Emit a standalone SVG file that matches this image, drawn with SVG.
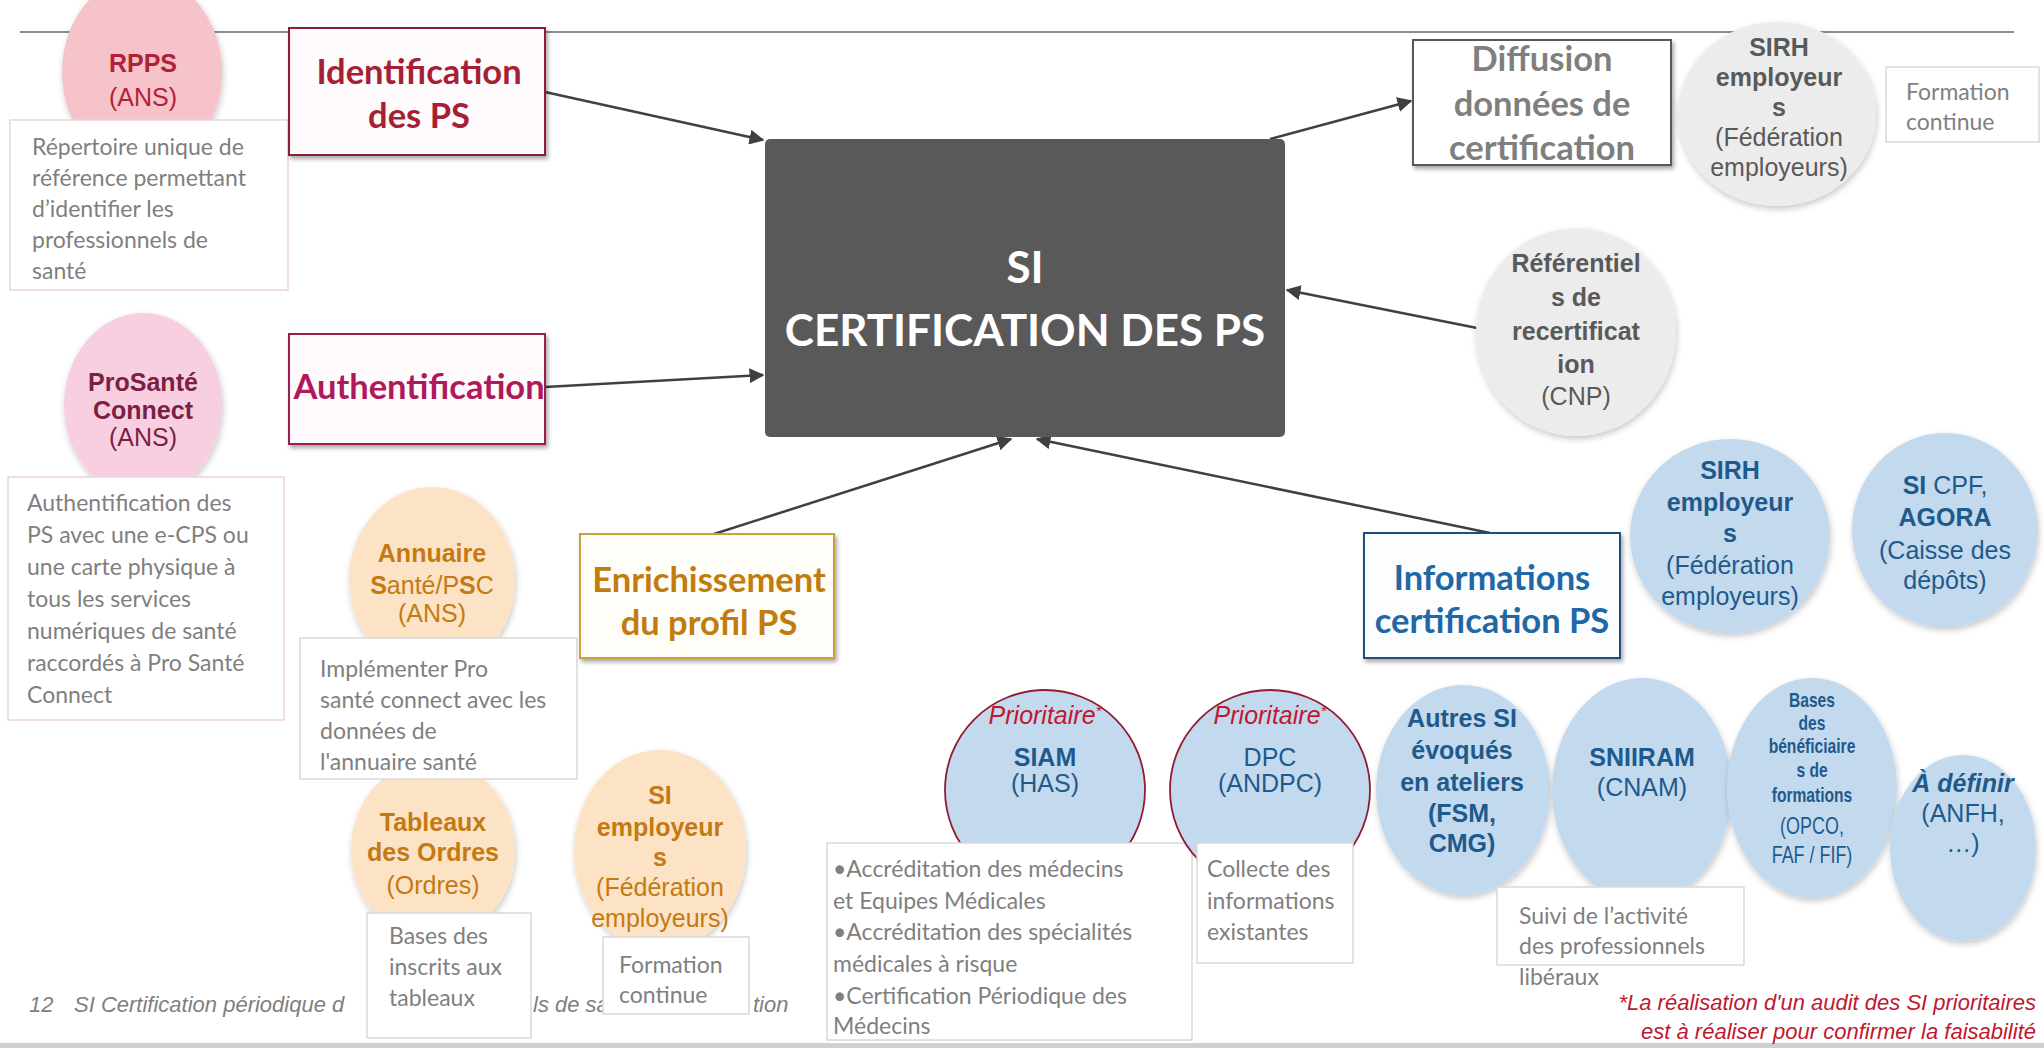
<svg xmlns="http://www.w3.org/2000/svg" width="2044" height="1048" viewBox="0 0 2044 1048">
<defs>
<filter id="sh" x="-10%" y="-10%" width="125%" height="130%">
<feDropShadow dx="2" dy="3" stdDeviation="2" flood-color="#000" flood-opacity="0.35"/>
</filter>
<filter id="csh" x="-10%" y="-10%" width="125%" height="125%">
<feDropShadow dx="1" dy="3" stdDeviation="3" flood-color="#000" flood-opacity="0.22"/>
</filter>
<marker id="arr" viewBox="0 0 10 10" refX="9" refY="5" markerWidth="6" markerHeight="6" orient="auto" markerUnits="strokeWidth">
<path d="M0,0 L10,5 L0,10 z" fill="#404040"/>
</marker>
</defs>
<style>
.desc{font-family:Lato,"Liberation Sans",sans-serif;font-size:23px;fill:#7f7f7f}
.dbox{fill:#fff;stroke:#d9d9d9;stroke-width:1.5}
.circ{font-family:"Liberation Sans",Arial,sans-serif;font-size:25px;text-anchor:middle}
.lbl{font-family:Lato,"Liberation Sans",sans-serif;font-weight:bold;font-size:34.5px;text-anchor:middle}
.b{font-weight:bold}
.conn{stroke:#404040;stroke-width:2.5;fill:none;marker-end:url(#arr)}
.foot{font-family:"Liberation Sans",Arial,sans-serif;font-style:italic;font-size:22px;fill:#7f7f7f}
.pink{fill:#f6c3cb}
.rose{fill:#f8cfe0}
.peach{fill:#fde3c6}
.grey{fill:#ececec}
.blue{fill:#c3d9ee}
.ring{stroke:#8f1d33;stroke-width:1.8}
.ot{fill:#c47a12}
.gt{fill:#595959}
.bt{fill:#1f5a8c}
.prio{fill:#c0182e;font-style:italic}
.sm{font-size:20px}
.md{font-size:23px}
</style>

<rect x="0" y="0" width="2044" height="1048" fill="#fff"/>
<line x1="20" y1="32" x2="2014" y2="32" stroke="#8c8c8c" stroke-width="2"/>
<rect x="0" y="1043" width="2044" height="5" fill="#d0d0d0"/>

<g id="footer">
<text class="foot" x="29" y="1012">12</text>
<text class="foot" x="74" y="1012">SI Certification périodique d</text>
<text class="foot" x="533" y="1012">ls de sa</text>
<text class="foot" x="753" y="1012">tion</text>
</g>

<g id="connectors">
<line class="conn" x1="545" y1="92" x2="763" y2="140"/>
<line class="conn" x1="545" y1="387" x2="763" y2="375"/>
<line class="conn" x1="714" y1="534" x2="1011" y2="439"/>
<line class="conn" x1="1490" y1="533" x2="1037" y2="439"/>
<line class="conn" x1="1477" y1="328" x2="1287" y2="290"/>
<line class="conn" x1="1270" y1="139" x2="1411" y2="101"/>
</g>

<g id="rpps">
<ellipse class="pink" cx="142" cy="72" rx="80" ry="96" filter="url(#csh)"/>
<text class="circ b" x="143" y="72" fill="#b22236">RPPS</text>
<text class="circ" x="143" y="106" fill="#b22236">(ANS)</text>
</g>
<g id="rpps-desc">
<rect class="dbox" x="10" y="120" width="278" height="170" style="stroke:#ecd3d8"/>
<text class="desc" x="32" y="155">Répertoire unique de</text>
<text class="desc" x="32" y="186">référence permettant</text>
<text class="desc" x="32" y="217">d’identifier les</text>
<text class="desc" x="32" y="248">professionnels de</text>
<text class="desc" x="32" y="279">santé</text>
</g>

<g id="identification">
<rect x="289" y="28" width="256" height="127" fill="#fffafb" stroke="#8f1d33" stroke-width="2" filter="url(#sh)"/>
<text class="lbl" x="419" y="84" fill="#a51f35">Identification</text>
<text class="lbl" x="419" y="128" fill="#a51f35">des PS</text>
</g>

<g id="prosante">
<ellipse class="rose" cx="143" cy="405" rx="79" ry="92" filter="url(#csh)"/>
<text class="circ b" x="143" y="391" fill="#7b1f45">ProSanté</text>
<text class="circ b" x="143" y="419" fill="#7b1f45">Connect</text>
<text class="circ" x="143" y="446" fill="#7b1f45">(ANS)</text>
</g>
<g id="prosante-desc">
<rect class="dbox" x="8" y="477" width="276" height="243" style="stroke:#ecd3d8"/>
<text class="desc" x="27" y="511">Authentification des</text>
<text class="desc" x="27" y="543">PS avec une e-CPS ou</text>
<text class="desc" x="27" y="575">une carte physique à</text>
<text class="desc" x="27" y="607">tous les services</text>
<text class="desc" x="27" y="639">numériques de santé</text>
<text class="desc" x="27" y="671">raccordés à Pro Santé</text>
<text class="desc" x="27" y="703">Connect</text>
</g>

<g id="authentification">
<rect x="289" y="334" width="256" height="110" fill="#fffafc" stroke="#9c1f55" stroke-width="2" filter="url(#sh)"/>
<text class="lbl" x="419" y="399" fill="#b0185c">Authentification</text>
</g>

<g id="central">
<rect x="765" y="139" width="520" height="298" rx="5" fill="#595959"/>
<text x="1025" y="283" font-family="Lato, 'Liberation Sans', sans-serif" font-weight="bold" font-size="44" fill="#fff" text-anchor="middle">SI</text>
<text x="1025" y="346" font-family="Lato, 'Liberation Sans', sans-serif" font-weight="bold" font-size="44" fill="#fff" text-anchor="middle">CERTIFICATION DES PS</text>
</g>

<g id="annuaire">
<ellipse class="peach" cx="432" cy="580" rx="83" ry="93" filter="url(#csh)"/>
<text class="circ b ot" x="432" y="562">Annuaire</text>
<text class="circ ot" x="432" y="594"><tspan class="b">S</tspan>anté/P<tspan class="b">S</tspan>C</text>
<text class="circ ot" x="432" y="622">(ANS)</text>
</g>

<g id="tableaux">
<ellipse class="peach" cx="433" cy="850" rx="82" ry="90" filter="url(#csh)"/>
<text class="circ b ot" x="433" y="831">Tableaux</text>
<text class="circ b ot" x="433" y="861">des Ordres</text>
<text class="circ ot" x="433" y="894">(Ordres)</text>
</g>

<g id="annuaire-desc">
<rect class="dbox" x="300" y="638" width="277" height="141"/>
<text class="desc" x="320" y="677">Implémenter Pro</text>
<text class="desc" x="320" y="708">santé connect avec les</text>
<text class="desc" x="320" y="739">données de</text>
<text class="desc" x="320" y="770">l'annuaire santé</text>
</g>

<g id="tableaux-desc">
<rect class="dbox" x="367" y="913" width="164" height="125"/>
<text class="desc" x="389" y="944">Bases des</text>
<text class="desc" x="389" y="975">inscrits aux</text>
<text class="desc" x="389" y="1006">tableaux</text>
</g>

<g id="si-employeurs">
<ellipse class="peach" cx="660" cy="850" rx="86" ry="100" filter="url(#csh)"/>
<text class="circ b ot" x="660" y="804">SI</text>
<text class="circ b ot" x="660" y="836">employeur</text>
<text class="circ b ot" x="660" y="866">s</text>
<text class="circ ot" x="660" y="896">(Fédération</text>
<text class="circ ot" x="660" y="927">employeurs)</text>
</g>
<g id="si-employeurs-desc">
<rect class="dbox" x="603" y="937" width="146" height="77"/>
<text class="desc" x="619" y="973">Formation</text>
<text class="desc" x="619" y="1003">continue</text>
</g>

<g id="enrichissement">
<rect x="580" y="534" width="254" height="124" fill="#fffdf7" stroke="#c9a13b" stroke-width="2" filter="url(#sh)"/>
<text class="lbl" x="709" y="592" fill="#c27c0e">Enrichissement</text>
<text class="lbl" x="709" y="635" fill="#c27c0e">du profil PS</text>
</g>

<g id="diffusion">
<rect x="1413" y="40" width="258" height="125" fill="#fff" stroke="#595959" stroke-width="2" filter="url(#sh)"/>
<text class="lbl" x="1542" y="71" fill="#7f7f7f">Diffusion</text>
<text class="lbl" x="1542" y="116" fill="#7f7f7f">données de</text>
<text class="lbl" x="1542" y="160" fill="#7f7f7f">certification</text>
</g>

<g id="sirh-grey">
<ellipse class="grey" cx="1777" cy="114" rx="99" ry="92" filter="url(#csh)"/>
<text class="circ b gt" x="1779" y="56">SIRH</text>
<text class="circ b gt" x="1779" y="86">employeur</text>
<text class="circ b gt" x="1779" y="116">s</text>
<text class="circ gt" x="1779" y="146">(Fédération</text>
<text class="circ gt" x="1779" y="176">employeurs)</text>
</g>
<g id="sirh-grey-desc">
<rect class="dbox" x="1886" y="67" width="153" height="75"/>
<text class="desc" x="1906" y="100">Formation</text>
<text class="desc" x="1906" y="130">continue</text>
</g>

<g id="referentiels">
<ellipse class="grey" cx="1576" cy="332" rx="100" ry="104" filter="url(#csh)"/>
<text class="circ b gt" x="1576" y="272">Référentiel</text>
<text class="circ b gt" x="1576" y="306">s de</text>
<text class="circ b gt" x="1576" y="340">recertificat</text>
<text class="circ b gt" x="1576" y="373">ion</text>
<text class="circ gt" x="1576" y="405">(CNP)</text>
</g>

<g id="informations">
<rect x="1364" y="533" width="256" height="125" fill="#fbfdff" stroke="#24507a" stroke-width="2" filter="url(#sh)"/>
<text class="lbl" x="1492" y="590" fill="#2067a3">Informations</text>
<text class="lbl" x="1492" y="633" fill="#2067a3">certification PS</text>
</g>

<g id="sirh-blue">
<ellipse class="blue" cx="1730" cy="536" rx="100" ry="97" filter="url(#csh)"/>
<text class="circ b bt" x="1730" y="479">SIRH</text>
<text class="circ b bt" x="1730" y="511">employeur</text>
<text class="circ b bt" x="1730" y="542">s</text>
<text class="circ bt" x="1730" y="574">(Fédération</text>
<text class="circ bt" x="1730" y="605">employeurs)</text>
</g>

<g id="si-cpf">
<ellipse class="blue" cx="1945" cy="530" rx="93" ry="97" filter="url(#csh)"/>
<text class="circ bt" x="1945" y="494"><tspan class="b">SI</tspan> CPF,</text>
<text class="circ b bt" x="1945" y="526">AGORA</text>
<text class="circ bt" x="1945" y="559">(Caisse des</text>
<text class="circ bt" x="1945" y="589">dépôts)</text>
</g>

<g id="siam">
<ellipse class="blue ring" cx="1045" cy="790" rx="100" ry="100"/>
<text class="circ prio" x="1045" y="724">Prioritaire<tspan style="font-size:15px" dy="-8">*</tspan></text>
<text class="circ b bt" x="1045" y="766">SIAM</text>
<text class="circ bt" x="1045" y="792">(HAS)</text>
</g>
<g id="siam-desc">
<rect class="dbox" x="827" y="843" width="365" height="197"/>
<text class="desc" x="833" y="877">•Accréditation des médecins</text>
<text class="desc" x="833" y="909">et Equipes Médicales</text>
<text class="desc" x="833" y="940">•Accréditation des spécialités</text>
<text class="desc" x="833" y="972">médicales à risque</text>
<text class="desc" x="833" y="1004">•Certification Périodique des</text>
<text class="desc" x="833" y="1034">Médecins</text>
</g>

<g id="dpc">
<ellipse class="blue ring" cx="1270" cy="790" rx="100" ry="100"/>
<text class="circ prio" x="1270" y="724">Prioritaire<tspan style="font-size:15px" dy="-8">*</tspan></text>
<text class="circ bt" x="1270" y="766">DPC</text>
<text class="circ bt" x="1270" y="792">(ANDPC)</text>
</g>
<g id="dpc-desc">
<rect class="dbox" x="1197" y="843" width="156" height="120"/>
<text class="desc" x="1207" y="877">Collecte des</text>
<text class="desc" x="1207" y="909">informations</text>
<text class="desc" x="1207" y="940">existantes</text>
</g>

<g id="autres-si">
<ellipse class="blue" cx="1463" cy="790" rx="87" ry="105" filter="url(#csh)"/>
<text class="circ b bt" x="1462" y="727">Autres SI</text>
<text class="circ b bt" x="1462" y="759">évoqués</text>
<text class="circ b bt" x="1462" y="791">en ateliers</text>
<text class="circ b bt" x="1462" y="822">(FSM,</text>
<text class="circ b bt" x="1462" y="852">CMG)</text>
</g>

<g id="sniiram">
<ellipse class="blue" cx="1642" cy="790" rx="90" ry="112" filter="url(#csh)"/>
<text class="circ b bt" x="1642" y="766">SNIIRAM</text>
<text class="circ bt" x="1642" y="796">(CNAM)</text>
</g>

<g id="bases">
<ellipse class="blue" cx="1812" cy="788" rx="85" ry="110" filter="url(#csh)"/>
<g transform="translate(1812 0) scale(0.78 1) translate(-1812 0)">
<text class="circ b bt sm" x="1812" y="707">Bases</text>
<text class="circ b bt sm" x="1812" y="730">des</text>
<text class="circ b bt sm" x="1812" y="753">bénéficiaire</text>
<text class="circ b bt sm" x="1812" y="777">s de</text>
<text class="circ b bt sm" x="1812" y="802">formations</text>
<text class="circ bt md" x="1812" y="834">(OPCO,</text>
<text class="circ bt md" x="1812" y="863">FAF / FIF)</text>
</g>
</g>

<g id="a-definir">
<ellipse class="blue" cx="1963" cy="848" rx="73" ry="93" filter="url(#csh)"/>
<text class="circ b bt" x="1963" y="792" font-style="italic">À définir</text>
<text class="circ bt" x="1963" y="822">(ANFH,</text>
<text class="circ bt" x="1963" y="852">…)</text>
</g>

<g id="suivi-desc">
<rect class="dbox" x="1497" y="887" width="247" height="78"/>
<text class="desc" x="1519" y="924">Suivi de l’activité</text>
<text class="desc" x="1519" y="954">des professionnels</text>
<text class="desc" x="1519" y="985">libéraux</text>
</g>

<g id="footnote">
<text x="2036" y="1010" text-anchor="end" font-family="'Liberation Sans', Arial, sans-serif" font-style="italic" font-size="22" fill="#c0182e">*La réalisation d'un audit des SI prioritaires</text>
<text x="2036" y="1039" text-anchor="end" font-family="'Liberation Sans', Arial, sans-serif" font-style="italic" font-size="22" fill="#c0182e">est à réaliser pour confirmer la faisabilité</text>
</g>
</svg>
